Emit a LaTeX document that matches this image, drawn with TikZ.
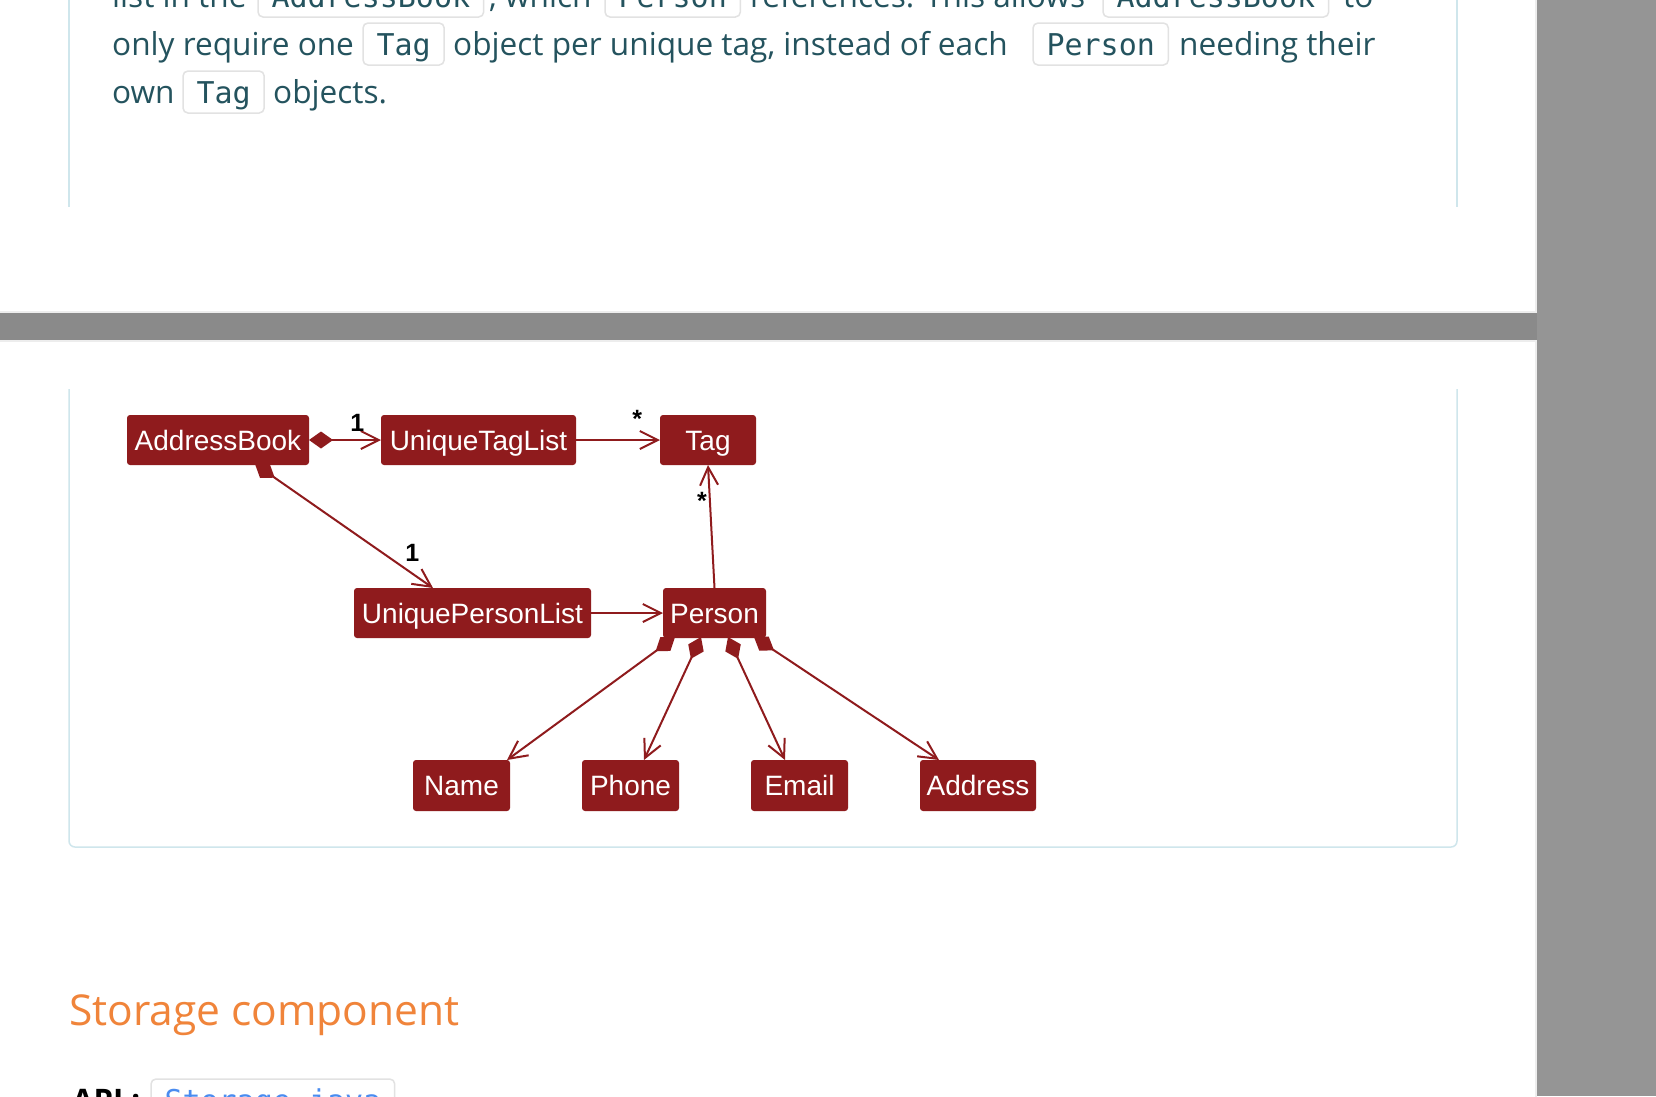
\documentclass[tikz,border=0pt]{standalone}
\usepackage{fontspec}
\setmainfont{Open Sans}
\newfontfamily\umlfont{Liberation Sans}
\newfontfamily\codefont{DejaVu Sans Mono}
\usetikzlibrary{arrows.meta,positioning}

\definecolor{deskgray}{HTML}{959595}
\definecolor{bandgray}{HTML}{8A8A8A}
\definecolor{pageedge}{HTML}{EDEDED}
\definecolor{boxline}{HTML}{CFE6EC}
\definecolor{prosecol}{HTML}{24535E}
\definecolor{codeline}{HTML}{E2E2E2}
\definecolor{umlred}{HTML}{8F1B1D}
\definecolor{headcol}{HTML}{F0843A}
\definecolor{linkcol}{HTML}{4A8CF0}

\tikzset{
  prose/.style={anchor=base west,inner sep=0pt,text=prosecol,font=\fontsize{31.6}{37}\selectfont},
  code/.style={anchor=base west,draw=codeline,line width=1.5pt,rounded corners=5pt,fill=white,
    text=prosecol,font=\codefont\fontsize{30}{36}\selectfont,inner xsep=13.5pt,inner ysep=10pt,
    text height=22pt,text depth=0pt,outer sep=0pt},
  cls/.style={rectangle,rounded corners=3pt,fill=umlred,text=white,
    font=\umlfont\fontsize{28}{34}\selectfont,minimum height=50pt,inner xsep=3pt,inner ysep=0pt,
    text height=26pt,text depth=6pt,outer sep=0pt},
  mult/.style={inner sep=0pt,text=black,font=\umlfont\bfseries\fontsize{25}{30}\selectfont},
  assoc/.style={draw=umlred,line width=2pt,-{Straight Barb[length=18pt,width=18pt]}},
  comp/.style={assoc,{Diamond[length=24pt,width=17pt]}-{Straight Barb[length=18pt,width=18pt]}},
}

\begin{document}
\begin{tikzpicture}[x=1pt,y=-1pt]
\useasboundingbox (0,0) rectangle (1656,1096);
\clip (0,0) rectangle (1656,1096);

% desk and pages
\fill[deskgray] (0,0) rectangle (1656,1096);
\fill[bandgray] (0,313) rectangle (1537,340);
\filldraw[fill=white,draw=pageedge,line width=2pt] (-5,-5) rectangle (1536,312);
\filldraw[fill=white,draw=pageedge,line width=2pt] (-5,341) rectangle (1536,1200);

% panel borders
\draw[boxline,line width=1.5pt] (69,-5) -- (69,207);
\draw[boxline,line width=1.5pt] (1457,-5) -- (1457,207);
\draw[boxline,line width=1.5pt,rounded corners=6pt] (69,389) -- (69,847) -- (1457,847) -- (1457,389);

% text above the diagram
\node[prose] (l1a) at (112,7) {list in the};
\node[code] (l1b) at (258,7) {AddressBook};
\node[prose] (l1c) at (489,7) {, which};
\node[code] (l1d) at (605,7) {Person};
\node[prose] (l1e) at (750,7) {references. This allows};
\node[code] (l1f) at (1103,7) {AddressBook};
\node[prose] (l1g) at (1343,7) {to};

\node[prose] (l2a) at (112,55) {only require one};
\node[code] (l2b) at (363,55) {Tag};
\node[prose] (l2c) at (453,55) {object per unique tag, instead of each};
\node[code] (l2d) at (1033,55) {Person};
\node[prose] (l2e) at (1179,55) {needing their};

\node[prose] (l3a) at (112,103) {own};
\node[code] (l3b) at (183,103) {Tag};
\node[prose] (l3c) at (273,103) {objects.};

% model diagram
\node[cls,minimum width=182pt] (AB) at (218,440) {AddressBook};
\node[cls,minimum width=195pt] (UTL) [right=72pt of AB] {UniqueTagList};
\node[cls,minimum width=96pt] (Tag) [right=84pt of UTL] {Tag};
\node[cls,minimum width=237pt] (UPL) at (472.5,613) {UniquePersonList};
\node[cls,minimum width=103pt] (Person) [right=72pt of UPL] {Person};
\node[cls,minimum width=97pt,minimum height=51pt] (Name) at (461.5,785.5) {Name};
\node[cls,minimum width=97pt,minimum height=51pt] (Phone) [right=72pt of Name] {Phone};
\node[cls,minimum width=97pt,minimum height=51pt] (Email) [right=72pt of Phone] {Email};
\node[cls,minimum width=116pt,minimum height=51pt] (Address) [right=72pt of Email] {Address};

\draw[comp] (AB.east) -- (UTL.west) node[mult,pos=0.67,above=8pt] {1};
\draw[assoc] (UTL.east) -- (Tag.west) node[mult,pos=0.73,above=12pt] {*};
\draw[comp] ([xshift=37pt,yshift=1pt]AB.south) -- ([xshift=-39.5pt]UPL.north)
  node[mult,pos=0.8,above right=1pt and 7pt] {1};
\draw[assoc] (UPL.east) -- (Person.west);
\draw[assoc] (Person.north) -- (Tag.south) node[mult,pos=0.71,left=2pt] {*};
\draw[comp] ([xshift=-39.5pt,yshift=1pt]Person.south) -- ([xshift=45.5pt]Name.north);
\draw[comp] ([xshift=-13.5pt,yshift=1pt]Person.south) -- ([xshift=13.5pt]Phone.north);
\draw[comp] ([xshift=13.5pt,yshift=1pt]Person.south) -- ([xshift=-14.5pt]Email.north);
\draw[comp] ([xshift=39.5pt,yshift=1pt]Person.south) -- ([xshift=-39pt]Address.north);

% next section
\node[anchor=base west,inner sep=0pt,text=headcol,font=\fontsize{42.5}{50}\selectfont] (head) at (69,1025) {Storage component};
\node[anchor=base west,inner sep=0pt,text=black,font=\bfseries\fontsize{31}{37}\selectfont] (api) at (72,1111) {API :};
\node[code,text=linkcol] (apilink) at (151,1111) {Storage.java};
\end{tikzpicture}
\end{document}
